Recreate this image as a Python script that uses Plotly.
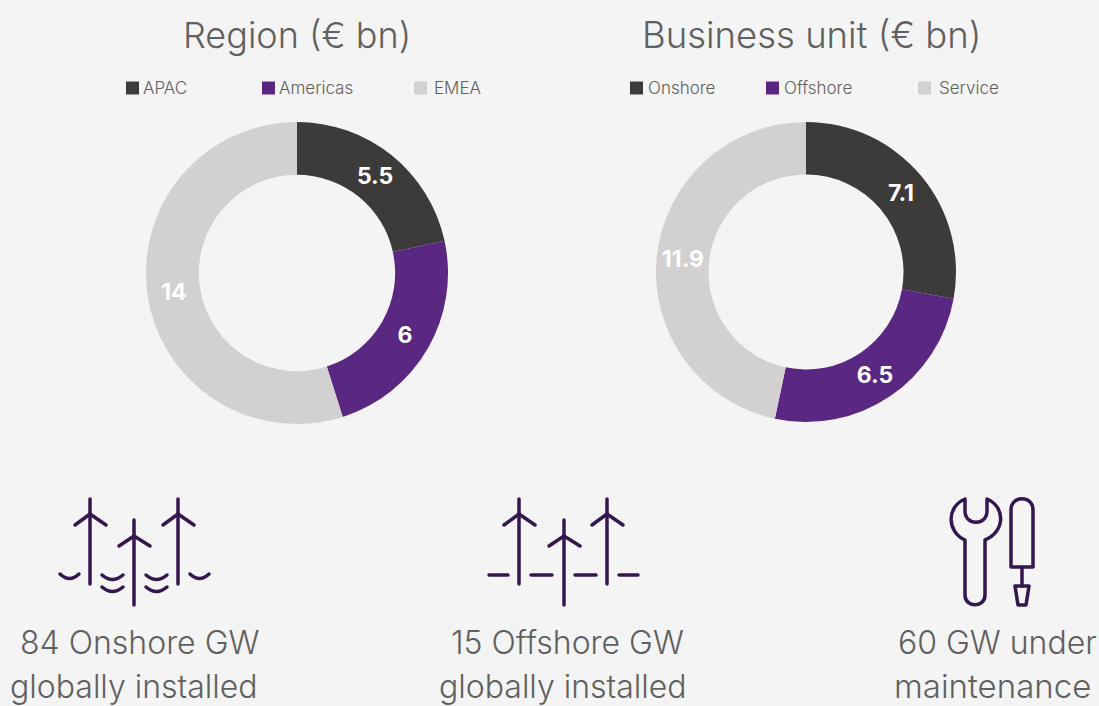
import plotly.graph_objects as go

W, H = 1099, 706
BG = "#f4f4f4"
DARK, PURPLE, LIGHT = "#3c3b39", "#5a2782", "#d2d0d1"
ICON = "#35174f"
TEXT = "#606060"
FONT = "Inter"

region_labels = ["APAC", "Americas", "EMEA"]
region_values = [5.5, 6, 14]
unit_labels = ["Onshore", "Offshore", "Service"]
unit_values = [7.1, 6.5, 11.9]
colors = [DARK, PURPLE, LIGHT]


def px(x):
    return x / W


def py(y):
    return 1 - y / H


def dom(cx, cy, r):
    return dict(x=[px(cx - r), px(cx + r)], y=[py(cy + r), py(cy - r)])


def pie(labels, values, cx, cy, r):
    return go.Pie(
        labels=labels, values=values, text=[str(v) for v in values],
        textinfo="text", textposition="inside", insidetextorientation="horizontal",
        textfont=dict(family=FONT, size=23, color="white", weight=700),
        marker=dict(colors=colors, line=dict(width=0)),
        hole=0.65, sort=False, direction="clockwise", rotation=0,
        domain=dom(cx, cy, r), showlegend=False, hoverinfo="label+value",
    )


annotations, shapes = [], []


def label(text, x, y, size, anchor="center"):
    annotations.append(dict(
        text=text, x=px(x), y=py(y), xref="paper", yref="paper", xanchor=anchor,
        yanchor="middle", showarrow=False, align="center",
        font=dict(family=FONT, size=size, color=TEXT, weight=300),
    ))


def stroke(*pts):
    d = "M" + " L".join(f"{px(x):.5f},{py(y):.5f}" for x, y in pts)
    shapes.append(dict(type="path", xref="paper", yref="paper", path=d,
                       line=dict(color=ICON, width=3.5)))


def curve(d_cmds):
    out = []
    for c, pts in d_cmds:
        out.append(c + " ".join(f"{px(x):.5f},{py(y):.5f}" for x, y in pts))
    shapes.append(dict(type="path", xref="paper", yref="paper", path=" ".join(out),
                       line=dict(color=ICON, width=3.5)))


def legend_item(name, color, sx, tx, y=88):
    shapes.append(dict(type="rect", xref="paper", yref="paper", x0=px(sx), x1=px(sx + 13),
                       y0=py(y + 6.5), y1=py(y - 6.5), fillcolor=color, line=dict(width=0)))
    label(name, tx, y, 17, "left")


def turbine(x, top, hub, tip_y, bottom):
    stroke((x, top), (x, bottom))
    stroke((x - 15, tip_y), (x, hub), (x + 16, tip_y))


def wave(x0, x1, y, depth=9):
    curve([("M", [(x0, y)]), ("Q", [((x0 + x1) / 2, y + depth), (x1, y)])])


# titles and legends
label("Region (€ bn)", 297, 35, 36)
label("Business unit (€ bn)", 812, 35, 36.5)
for name, color, sx, tx in zip(region_labels, colors, (126, 262, 414), (141, 277, 432)):
    legend_item(name, color, sx, tx)
for name, color, sx, tx in zip(unit_labels, colors, (630, 766, 918), (646, 782, 937)):
    legend_item(name, color, sx, tx)

# onshore-labelled icon with waves
turbine(90, 499, 514, 525, 584)
turbine(134, 520, 536, 546, 605)
turbine(178, 499, 514, 525, 584)
for x0, x1, y in [(60, 79, 574), (102, 123, 575), (102, 123, 587), (146, 167, 575),
                  (146, 167, 587), (190, 209, 574)]:
    wave(x0, x1, y)

# second turbine icon with dashes
turbine(519, 499, 514, 525, 584)
turbine(564, 520, 536, 546, 605)
turbine(607, 499, 514, 525, 584)
for x0, x1 in [(489, 508), (531, 552), (575, 596), (619, 638)]:
    stroke((x0, 575), (x1, 575))

# wrench
curve([
    ("M", [(965, 499)]), ("L", [(965, 511)]),
    ("C", [(965, 526), (987, 526), (987, 511)]), ("L", [(987, 499)]),
    ("C", [(1006, 507), (1005, 532), (985, 540)]), ("L", [(985, 595)]),
    ("C", [(985, 608), (965, 608), (965, 595)]), ("L", [(965, 540)]),
    ("C", [(947, 532), (946, 507), (965, 499)]), ("Z", []),
])
# screwdriver
curve([
    ("M", [(1011, 567)]), ("L", [(1011, 510)]),
    ("C", [(1011, 495), (1033, 495), (1033, 510)]), ("L", [(1033, 567)]), ("Z", []),
])
stroke((1022, 567), (1022, 586))
curve([("M", [(1015, 586)]), ("L", [(1029, 586)]), ("L", [(1026, 605)]), ("L", [(1018, 605)]), ("Z", [])])

# captions
label("84 Onshore GW", 139, 642, 32)
label("globally installed", 134, 686, 32)
label("15 Offshore GW", 567, 642, 32)
label("globally installed", 563, 686, 32)
label("60 GW under", 997, 642, 32)
label("maintenance", 992, 686, 33)

fig = go.Figure([pie(region_labels, region_values, 297, 273, 151),
                 pie(unit_labels, unit_values, 806, 272, 150)])
fig.update_layout(width=W, height=H, margin=dict(l=0, r=0, t=0, b=0),
                  paper_bgcolor=BG, plot_bgcolor=BG, annotations=annotations, shapes=shapes)
fig.write_html("out.html", config=dict(displayModeBar=False), post_script="""
document.body.style.margin='0';document.body.style.background='#f4f4f4';
var st=document.createElement('style');st.textContent='.shapelayer path{stroke-linecap:round;stroke-linejoin:round}';document.head.appendChild(st);
""")
